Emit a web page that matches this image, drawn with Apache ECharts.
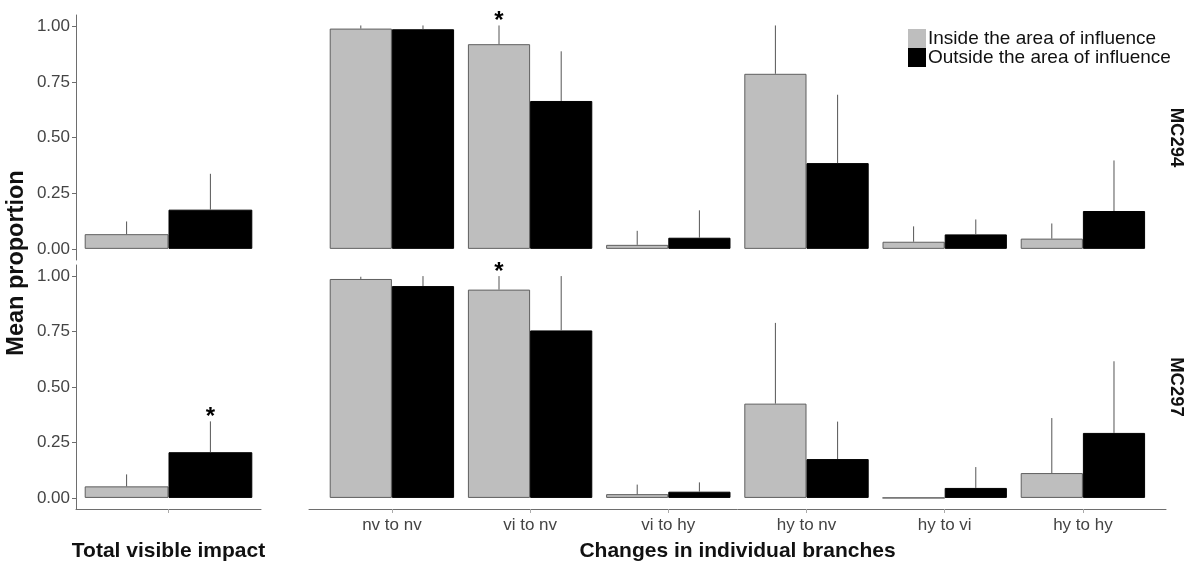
<!DOCTYPE html>
<html>
<head>
<meta charset="utf-8">
<script src="https://cdn.jsdelivr.net/npm/echarts@6/dist/echarts.min.js"></script>
<style>html,body{margin:0;padding:0;background:#fff}#c{width:1186px;height:565px}</style>
</head>
<body>
<div id="c"></div>
<script>
// ---- data ----
const categories = ['nv to nv', 'vi to nv', 'vi to hy', 'hy to nv', 'hy to vi', 'hy to hy'];
const groups = ['Inside the area of influence', 'Outside the area of influence'];
const yTicks = [0, 0.25, 0.5, 0.75, 1];
const panels = ['MC294', 'MC297'];

// MC294 - changes in individual branches
const mc294Inside = [0.989, 0.919, 0.018, 0.786, 0.032, 0.046];
const mc294InsideUpper = [1.003, 1.003, 0.081, 1.003, 0.101, 0.114];
const mc294Outside = [0.986, 0.664, 0.050, 0.385, 0.065, 0.170];
const mc294OutsideUpper = [1.003, 0.887, 0.173, 0.692, 0.132, 0.397];
const mc294InsideStar = [0, 1, 0, 0, 0, 0];
const mc294OutsideStar = [0, 0, 0, 0, 0, 0];

// MC297 - changes in individual branches
const mc297Inside = [0.987, 0.939, 0.017, 0.425, 0.0, 0.112];
const mc297InsideUpper = [0.997, 1.0, 0.060, 0.789, 0.0, 0.360];
const mc297Outside = [0.955, 0.755, 0.028, 0.175, 0.045, 0.293];
const mc297OutsideUpper = [1.0, 1.0, 0.070, 0.344, 0.139, 0.616];
const mc297InsideStar = [0, 1, 0, 0, 0, 0];
const mc297OutsideStar = [0, 0, 0, 0, 0, 0];

// Total visible impact
const totalCategory = [''];
const mc294TotalInside = [0.066];
const mc294TotalInsideUpper = [0.123];
const mc294TotalOutside = [0.176];
const mc294TotalOutsideUpper = [0.337];
const mc294TotalStar = [[0], [0]];
const mc297TotalInside = [0.052];
const mc297TotalInsideUpper = [0.106];
const mc297TotalOutside = [0.206];
const mc297TotalOutsideUpper = [0.345];
const mc297TotalStar = [[0], [1]];

// ---- styles ----
const FONT = 'Liberation Sans, Arial, sans-serif';
const AXIS_GREY = '#6e6e6e';
const TEXT_GREY = '#444';
const INSIDE_FILL = '#bebebe';
const INSIDE_BORDER = '#5f5f5f';
const BAR_FRAC_RIGHT = 0.45;
const BAR_FRAC_LEFT = 0.453;

function errData(vIn, uIn, sIn, vOut, uOut, sOut) {
  const d = [];
  vIn.forEach((v, i) => d.push([i, v, uIn[i], 0, sIn[i]]));
  vOut.forEach((v, i) => d.push([i, v, uOut[i], 1, sOut[i]]));
  return d;
}

function makeRender(frac) {
  return function (params, api) {
    const idx = api.value(0), v = api.value(1), u = api.value(2), g = api.value(3), s = api.value(4);
    const band = api.size([1, 0])[0];
    const off = (g === 0 ? -1 : 1) * band * frac / 2;
    const p0 = api.coord([idx, v]);
    const p1 = api.coord([idx, u]);
    const x = p0[0] + off;
    const children = [];
    if (u > v) {
      children.push({
        type: 'line',
        shape: { x1: x, y1: p0[1], x2: x, y2: p1[1] },
        style: { stroke: '#555', lineWidth: 1 }
      });
    }
    if (s) {
      children.push({
        type: 'text',
        style: {
          text: '*', x: x, y: p1[1] + 8, align: 'center', verticalAlign: 'bottom',
          font: 'bold 24px ' + FONT, fill: '#000'
        }
      });
    }
    return { type: 'group', children: children };
  };
}

function barSeries(name, data, xi, frac, inside) {
  return {
    type: 'bar', name: name, data: data, xAxisIndex: xi, yAxisIndex: xi,
    barWidth: (frac * 100) + '%', barGap: '0%',
    itemStyle: inside
      ? { color: INSIDE_FILL, borderColor: INSIDE_BORDER, borderWidth: 1 }
      : { color: '#000', borderColor: '#000', borderWidth: 1 },
    emphasis: { disabled: true }, silent: true
  };
}

function errSeries(data, xi, frac) {
  return {
    type: 'custom', data: data, xAxisIndex: xi, yAxisIndex: xi, z: 5,
    renderItem: makeRender(frac), encode: { x: 0, y: [1, 2] }, silent: true
  };
}

function leftY(gi) {
  return {
    type: 'value', gridIndex: gi, min: -0.05, max: 1.05,
    axisLine: { show: true, lineStyle: { color: AXIS_GREY, width: 1 } },
    axisTick: { show: true, length: 4, lineStyle: { color: AXIS_GREY }, customValues: yTicks },
    axisLabel: { show: true, customValues: yTicks, formatter: v => v.toFixed(2), color: TEXT_GREY, fontSize: 17, fontFamily: FONT, margin: 6 },
    splitLine: { show: false }
  };
}

function rightY(gi, name) {
  return {
    type: 'value', gridIndex: gi, min: -0.05, max: 1.05, position: 'right',
    axisLine: { show: false }, axisTick: { show: false }, axisLabel: { show: false },
    splitLine: { show: false },
    name: name, nameLocation: 'middle', nameRotate: -90, nameGap: 15,
    nameTextStyle: { fontWeight: 'bold', fontSize: 18.5, color: '#111', fontFamily: FONT }
  };
}

function grid(left, top, width, height) {
  return { left: left, top: top, width: width, height: height, containLabel: false, outerBoundsMode: 'none' };
}

const option = {
  animation: false,
  backgroundColor: '#fff',
  textStyle: { fontFamily: FONT },
  legend: {
    data: groups, orient: 'vertical', left: 903, top: 24,
    itemWidth: 18, itemHeight: 19, itemGap: 0, icon: 'rect',
    itemStyle: { borderWidth: 0 },
    textStyle: { fontSize: 19, color: '#111', fontFamily: FONT, lineHeight: 19, padding: [0, 0, 0, -3] },
    selectedMode: false
  },
  grid: [
    grid(76, 15, 185, 245),
    grid(322.8, 15, 829.2, 245),
    grid(76, 265, 185, 244),
    grid(322.8, 265, 829.2, 244),
    grid(309, 265, 857, 244)
  ],
  xAxis: [
    { type: 'category', gridIndex: 0, data: totalCategory, show: false },
    { type: 'category', gridIndex: 1, data: categories, show: false },
    {
      type: 'category', gridIndex: 2, data: totalCategory,
      axisLine: { show: true, onZero: false, lineStyle: { color: AXIS_GREY } },
      axisTick: { show: true, alignWithLabel: true, length: 4, lineStyle: { color: '#aaa' } },
      axisLabel: { show: false },
      name: 'Total visible impact', nameLocation: 'middle', nameGap: 32,
      nameTextStyle: { fontWeight: 'bold', fontSize: 21, color: '#111', fontFamily: FONT }
    },
    {
      type: 'category', gridIndex: 3, data: categories,
      axisLine: { show: false, onZero: false },
      axisTick: { show: true, alignWithLabel: true, length: 4, lineStyle: { color: '#aaa' } },
      axisLabel: { show: true, color: TEXT_GREY, fontSize: 17, fontFamily: FONT, margin: 8 }
    },
    {
      type: 'value', gridIndex: 4, min: 0, max: 1,
      axisLine: { show: true, onZero: false, lineStyle: { color: AXIS_GREY } },
      axisTick: { show: false }, axisLabel: { show: false }, splitLine: { show: false },
      name: 'Changes in individual branches', nameLocation: 'middle', nameGap: 32,
      nameTextStyle: { fontWeight: 'bold', fontSize: 21, color: '#111', fontFamily: FONT }
    }
  ],
  yAxis: [
    leftY(0),
    rightY(1, panels[0]),
    leftY(2),
    rightY(3, panels[1]),
    { type: 'value', gridIndex: 4, min: 0, max: 1, show: false }
  ],
  graphic: [{
    type: 'text', x: 17, y: 263, rotation: Math.PI / 2,
    style: { text: 'Mean proportion', font: 'bold 23.5px ' + FONT, fill: '#111', align: 'center', verticalAlign: 'middle' }
  }],
  series: [
    barSeries(groups[0], mc294TotalInside, 0, BAR_FRAC_LEFT, true),
    barSeries(groups[1], mc294TotalOutside, 0, BAR_FRAC_LEFT, false),
    errSeries(errData(mc294TotalInside, mc294TotalInsideUpper, mc294TotalStar[0], mc294TotalOutside, mc294TotalOutsideUpper, mc294TotalStar[1]), 0, BAR_FRAC_LEFT),

    barSeries(groups[0], mc294Inside, 1, BAR_FRAC_RIGHT, true),
    barSeries(groups[1], mc294Outside, 1, BAR_FRAC_RIGHT, false),
    errSeries(errData(mc294Inside, mc294InsideUpper, mc294InsideStar, mc294Outside, mc294OutsideUpper, mc294OutsideStar), 1, BAR_FRAC_RIGHT),

    barSeries(groups[0], mc297TotalInside, 2, BAR_FRAC_LEFT, true),
    barSeries(groups[1], mc297TotalOutside, 2, BAR_FRAC_LEFT, false),
    errSeries(errData(mc297TotalInside, mc297TotalInsideUpper, mc297TotalStar[0], mc297TotalOutside, mc297TotalOutsideUpper, mc297TotalStar[1]), 2, BAR_FRAC_LEFT),

    barSeries(groups[0], mc297Inside, 3, BAR_FRAC_RIGHT, true),
    barSeries(groups[1], mc297Outside, 3, BAR_FRAC_RIGHT, false),
    errSeries(errData(mc297Inside, mc297InsideUpper, mc297InsideStar, mc297Outside, mc297OutsideUpper, mc297OutsideStar), 3, BAR_FRAC_RIGHT)
  ]
};

const chart = echarts.init(document.getElementById('c'), null, { renderer: 'canvas' });
chart.setOption(option);
</script>
</body>
</html>
